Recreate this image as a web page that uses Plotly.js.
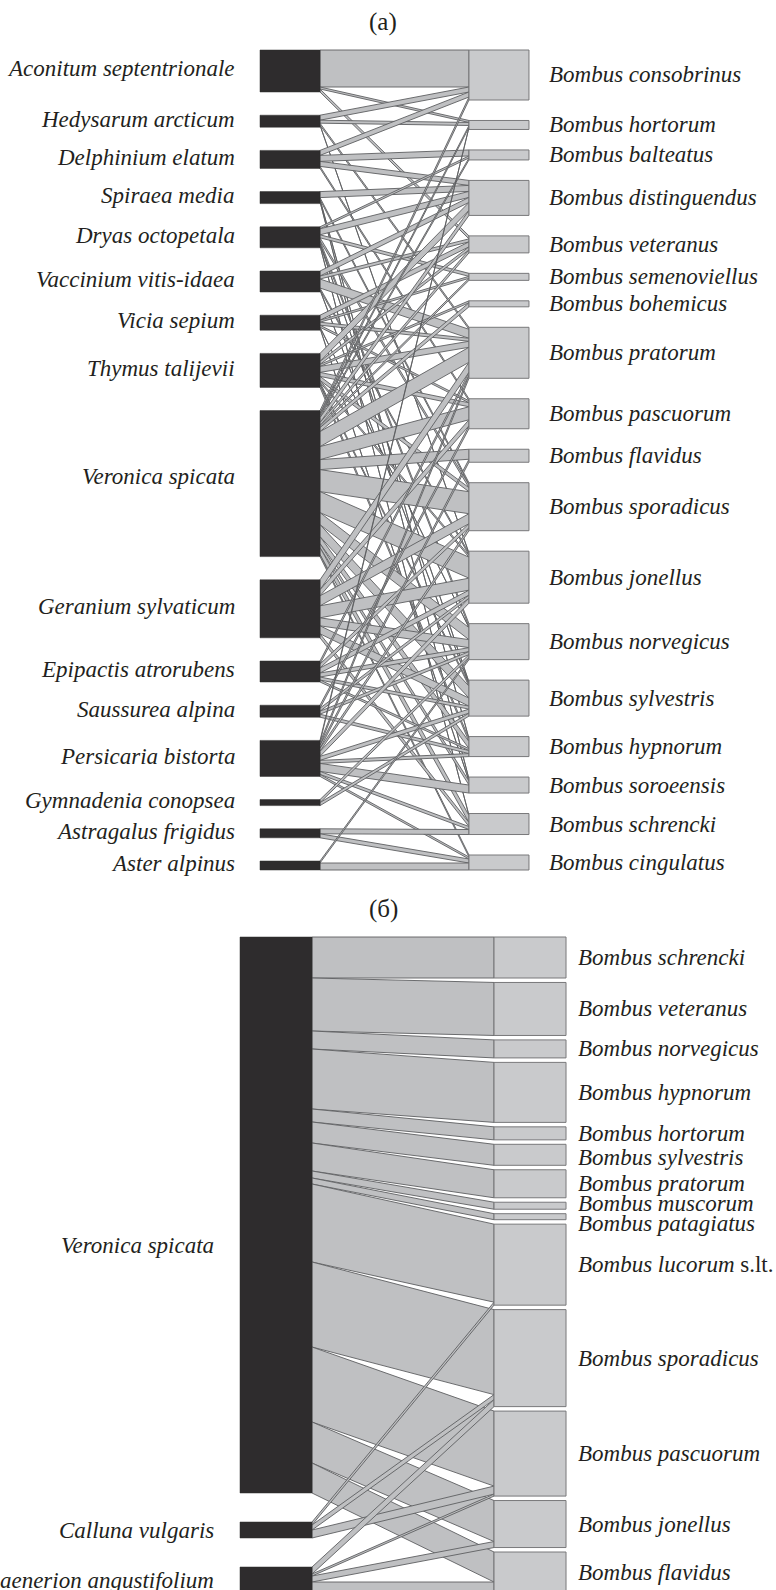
<!DOCTYPE html>
<html><head><meta charset="utf-8">
<script src="https://cdn.plot.ly/plotly-3.0.1.min.js"></script>
<style>html,body{margin:0;padding:0;background:#fff;overflow:hidden}#chart{width:776px;height:1590px}</style>
</head><body><div id="chart"></div>
<script>
// ---------- Panel (a) data ----------
const plantsA = ['Aconitum septentrionale','Hedysarum arcticum','Delphinium elatum','Spiraea media','Dryas octopetala','Vaccinium vitis-idaea','Vicia sepium','Thymus talijevii','Veronica spicata','Geranium sylvaticum','Epipactis atrorubens','Saussurea alpina','Persicaria bistorta','Gymnadenia conopsea','Astragalus frigidus','Aster alpinus'];
const beesA = ['Bombus consobrinus','Bombus hortorum','Bombus balteatus','Bombus distinguendus','Bombus veteranus','Bombus semenoviellus','Bombus bohemicus','Bombus pratorum','Bombus pascuorum','Bombus flavidus','Bombus sporadicus','Bombus jonellus','Bombus norvegicus','Bombus sylvestris','Bombus hypnorum','Bombus soroeensis','Bombus schrencki','Bombus cingulatus'];
// [plant index, bee index, interactions]
const linksA = [
 [0,0,37],[0,1,2],[0,4,3],
 [1,0,5],[1,1,3],[1,7,2],[1,11,2],
 [2,0,5],[2,2,6],[2,3,5],[2,8,2],
 [3,3,6],[3,10,2],[3,14,2],[3,15,2],
 [4,2,2],[4,3,6],[4,5,3],[4,10,3],[4,12,3],[4,13,2],[4,16,2],
 [5,3,5],[5,4,3],[5,7,9],[5,11,2],[5,13,2],
 [6,4,5],[6,5,2],[6,7,3],[6,8,2],[6,12,1],[6,15,2],
 [7,3,8],[7,4,3],[7,6,2],[7,7,6],[7,8,4],[7,10,4],[7,11,2],[7,13,2],[7,14,3],
 [8,0,3],[8,1,2],[8,2,2],[8,3,5],[8,4,3],[8,5,2],[8,6,4],[8,7,15],[8,8,13],[8,9,10],[8,10,22],[8,11,21],[8,12,12],[8,13,12],[8,14,7],[8,15,4],[8,16,7],[8,17,2],
 [9,7,10],[9,8,6],[9,10,10],[9,11,12],[9,12,8],[9,13,8],[9,16,4],
 [10,7,3],[10,10,4],[10,11,5],[10,12,4],[10,13,3],[10,14,2],
 [11,8,3],[11,11,3],[11,12,3],[11,14,3],
 [12,1,2],[12,7,3],[12,9,3],[12,10,3],[12,11,5],[12,13,4],[12,14,3],[12,15,8],[12,16,3],[12,17,2],
 [13,12,3],[13,13,3],
 [14,16,5],[14,17,4],
 [15,12,2],[15,17,7]
];

// ---------- Panel (б) data ----------
const plantsB = ['Veronica spicata','Calluna vulgaris','Chamaenerion angustifolium'];
const beesB = ['Bombus schrencki','Bombus veteranus','Bombus norvegicus','Bombus hypnorum','Bombus hortorum','Bombus sylvestris','Bombus pratorum','Bombus muscorum','Bombus patagiatus','Bombus lucorum','Bombus sporadicus','Bombus pascuorum','Bombus jonellus','Bombus flavidus'];
const beeSuffixB = {9:' s.lt.'};
const linksB = [
 [0,0,41],[0,1,53],[0,2,18],[0,3,60],[0,4,13],[0,5,21],[0,6,28],[0,7,7],[0,8,6],[0,9,78],[0,10,85],[0,11,75],[0,12,41],[0,13,30],
 [1,9,3],[1,10,5],[1,11,8],
 [2,10,7],[2,11,2],[2,12,6],[2,13,11]
];

// ---------- styles ----------
const H = 1590;
const PLANT_FILL = '#2e2c2d', BEE_FILL = '#c9cacc', BOX_LINE = '#78787a';
const LINK_FILL = '#bfc0c2', LINK_LINE = '#5e5f61';
const FONT = 'Liberation Serif';
const FS = 23;

function pd(px){ return 1 - px/H; }

const traces = [];
const annotations = [];

function buildPanel(opt){
  const {plants, bees, links, span, linkLen, xa, ya, plantLabelX, beeLabelX, suffix, plantShift, beeShift, baseShift} = opt;
  const pTot = plants.map(()=>0), bTot = bees.map(()=>0);
  links.forEach(([p,b,w])=>{pTot[p]+=w; bTot[b]+=w;});
  const total = pTot.reduce((a,b)=>a+b,0);
  const gp = (span-total)/(plants.length-1);
  const gb = (span-total)/(bees.length-1);
  const pStart=[], bStart=[];
  let y=0; pTot.forEach((t,i)=>{pStart[i]=y; y+=t+gp;});
  y=0; bTot.forEach((t,i)=>{bStart[i]=y; y+=t+gb;});
  // offsets within boxes: plant side ordered by bee index, bee side ordered by plant index
  const pOff = pStart.slice(), bOff = bStart.slice();
  const byPlant = links.slice().sort((a,b)=>a[0]-b[0]||a[1]-b[1]);
  const pPos = new Map();
  byPlant.forEach(l=>{pPos.set(l, pOff[l[0]]); pOff[l[0]]+=l[2];});
  const byBee = links.slice().sort((a,b)=>a[1]-b[1]||a[0]-b[0]);
  const bPos = new Map();
  byBee.forEach(l=>{bPos.set(l, bOff[l[1]]); bOff[l[1]]+=l[2];});
  links.forEach(l=>{
    const p0=pPos.get(l), b0=bPos.get(l), w=l[2];
    traces.push({type:'scatter',mode:'lines',xaxis:xa,yaxis:ya,
      x:[1,linkLen,linkLen,1,1], y:[p0,b0,b0+w,p0+w,p0],
      fill:'toself',fillcolor:LINK_FILL,line:{color:LINK_LINE,width:0.9},
      hoverinfo:'skip',showlegend:false});
  });
  plants.forEach((name,i)=>{
    const y0=pStart[i], y1=pStart[i]+pTot[i];
    traces.push({type:'scatter',mode:'lines',xaxis:xa,yaxis:ya,
      x:[0,1,1,0,0], y:[y0,y0,y1,y1,y0], fill:'toself',fillcolor:PLANT_FILL,
      line:{color:PLANT_FILL,width:0.5},hoverinfo:'skip',showlegend:false});
    annotations.push({xref:xa,yref:ya,x:plantLabelX,y:(y0+y1)/2,xanchor:'right',yanchor:'middle',
      text:'<i>'+name+'</i>',showarrow:false,yshift:((plantShift&&plantShift[i])||0)+(baseShift||0),
      font:{family:FONT,size:FS,color:'#231f20'}});
  });
  bees.forEach((name,i)=>{
    const y0=bStart[i], y1=bStart[i]+bTot[i];
    traces.push({type:'scatter',mode:'lines',xaxis:xa,yaxis:ya,
      x:[linkLen,linkLen+1,linkLen+1,linkLen,linkLen], y:[y0,y0,y1,y1,y0], fill:'toself',fillcolor:BEE_FILL,
      line:{color:BOX_LINE,width:1},hoverinfo:'skip',showlegend:false});
    annotations.push({xref:xa,yref:ya,x:beeLabelX,y:(y0+y1)/2,xanchor:'left',yanchor:'middle',
      text:'<i>'+name+'</i>'+((suffix&&suffix[i])||''),showarrow:false,yshift:(beeShift&&beeShift[i])||0,
      font:{family:FONT,size:FS,color:'#231f20'}});
  });
}

// panel (a): 1 y-unit = 1 px; bars 60 px wide
buildPanel({plants:plantsA,bees:beesA,links:linksA,span:820,linkLen:3.483,xa:'x',ya:'y',
  plantLabelX:-0.38,beeLabelX:4.78,baseShift:2,
  plantShift:[0,0,0,0,0,0,0,0,5,0,0,0,0,0,0,0]});
// panel (б): bars 72 px wide
buildPanel({plants:plantsB,bees:beesB,links:linksB,span:656,linkLen:3.528,xa:'x2',ya:'y2',
  plantLabelX:-0.33,beeLabelX:4.67,suffix:beeSuffixB,plantShift:[-30,0,0],
  beeShift:[0,0,0,0,0,-3,0,2,-7,0,0,0,0,0]});

annotations.push({xref:'paper',yref:'paper',x:383/776,y:pd(22),xanchor:'center',yanchor:'middle',
  text:'(a)',showarrow:false,font:{family:FONT,size:25,color:'#231f20'}});
annotations.push({xref:'paper',yref:'paper',x:383/776,y:pd(909),xanchor:'center',yanchor:'middle',
  text:'(б)',showarrow:false,font:{family:FONT,size:25,color:'#231f20'}});

const hide = {visible:false,fixedrange:true,showgrid:false,zeroline:false};
const layout = {
  width:776,height:H,margin:{l:0,r:0,t:0,b:0},paper_bgcolor:'#fff',plot_bgcolor:'rgba(0,0,0,0)',
  showlegend:false,
  xaxis:Object.assign({domain:[0,1],range:[-260/60,(776-260)/60],anchor:'y'},hide),
  yaxis:Object.assign({domain:[pd(872),pd(48)],range:[822,-2],anchor:'x'},hide),
  xaxis2:Object.assign({domain:[0,1],range:[-240/72,(776-240)/72],anchor:'y2'},hide),
  yaxis2:Object.assign({domain:[0,pd(935)],range:[653,-2],anchor:'x2'},hide),
  annotations:annotations
};
Plotly.newPlot('chart',traces,layout,{staticPlot:true,displayModeBar:false});
</script>
</body></html>
